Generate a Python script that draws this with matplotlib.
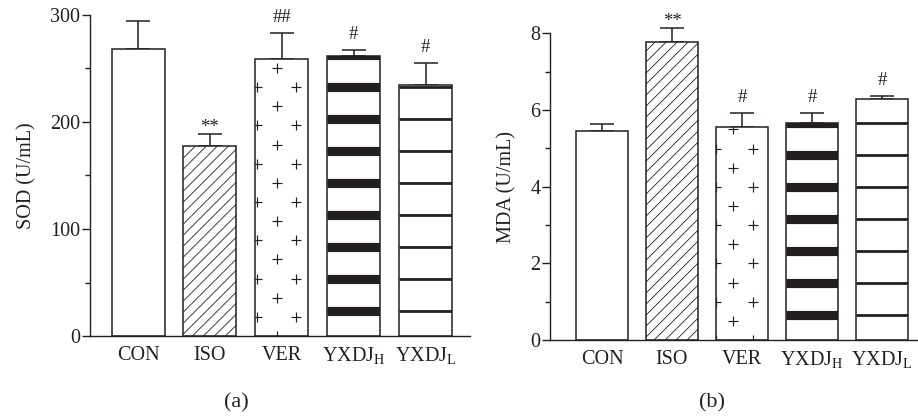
# SOD / MDA bar panels with publication-style fill patterns.

import numpy as np
import matplotlib.pyplot as plt

plt.rcParams['font.family'] = ['Liberation Serif', 'DejaVu Serif']
plt.rcParams['mathtext.fontset'] = 'custom'
plt.rcParams['mathtext.rm'] = 'Liberation Serif'

GROUPS = ["CON", "ISO", "VER", r"YXDJ$_\mathregular{H}$", r"YXDJ$_\mathregular{L}$"]
FILLS = ["plain", "hatch", "plus", "thick", "thin"]

SOD_MEAN = [268, 178, 259, 262, 234.5]
SOD_ERR = [26, 11, 24, 5, 20.5]
SOD_MARK = ["", "**", "##", "#", "#"]

MDA_MEAN = [5.46, 7.78, 5.56, 5.67, 6.28]
MDA_ERR = [0.17, 0.37, 0.36, 0.25, 0.09]
MDA_MARK = ["", "**", "#", "#", "#"]

INK = "#231f20"
FS = 14.5


def px_scale(ax):
    t = ax.transData
    o = t.transform((0, 0))
    return t.transform((1, 0))[0] - o[0], t.transform((0, 1))[1] - o[1]


def fill_bar(ax, bar, kind, plus_cols, even_mid):
    x0, w, h = bar.get_x(), bar.get_width(), bar.get_height()
    sx, sy = px_scale(ax)
    wpx, hpx = w * sx, h * sy
    arts = []
    if kind == "hatch":
        for c in np.arange(-wpx, hpx + 11, 11):
            ln, = ax.plot([x0, x0 + w], [c / sy, (c + wpx) / sy],
                          color=INK, lw=0.6, zorder=2.5)
            arts.append(ln)
    elif kind == "plus":
        mid, outer = plus_cols[1], [plus_cols[0], plus_cols[2]]
        for j in range(int(hpx / 19.15) + 1):
            cols = [mid] if (j % 2 == 0) == even_mid else outer
            for c in cols:
                ln, = ax.plot([x0 + c / sx], [j * 19.15 / sy], ls="none", marker="+",
                              ms=7, mew=0.85, color=INK, zorder=2.5)
                arts.append(ln)
    elif kind in ("thick", "thin"):
        lw = 6.6 if kind == "thick" else 2.0
        ys = np.arange(25.3, hpx + 10, 32) / sy
        arts.append(ax.hlines(ys, x0, x0 + w, colors=INK, lw=lw, zorder=2.5))
    for a in arts:
        a.set_clip_path(bar)


def panel(ax, means, errs, marks, ylim, major, minor, ylabel, xlim, width,
          plus_cols, even_mid):
    x = np.arange(len(GROUPS))
    ax.set_xlim(*xlim)
    ax.set_ylim(*ylim)
    ax.set_autoscale_on(False)
    bars = ax.bar(x, means, width, color="white", edgecolor="none", zorder=2)
    for bar, kind in zip(bars, FILLS):
        fill_bar(ax, bar, kind, plus_cols, even_mid)
    ax.bar(x, means, width, fill=False, edgecolor=INK, lw=1.1, zorder=3)
    eb = ax.errorbar(x, means, yerr=[np.zeros(len(x)), errs], fmt="none", ecolor=INK,
                     elinewidth=1.1, capsize=8.6, capthick=1.1, zorder=1)
    for part in eb.lines[1] + eb.lines[2]:
        part.set_clip_on(False)
    for xi, m, e, mk in zip(x, means, errs, marks):
        if mk:
            off = 1.0 if "*" in mk else 7.9
            ax.annotate(mk, (xi, m + e), xytext=(0, off), textcoords="offset points",
                        ha="center", va="baseline", fontsize=FS - 1, color=INK,
                        annotation_clip=False)
    ax.spines[["top", "right"]].set_visible(False)
    for s in ("left", "bottom"):
        ax.spines[s].set_linewidth(1.0)
        ax.spines[s].set_color(INK)
    ax.set_yticks(major)
    ax.set_yticks(minor, minor=True)
    ax.set_xticks(x)
    ax.set_xticklabels(GROUPS)
    ax.tick_params(axis="y", which="major", length=5.5, width=1, pad=1.5,
                   labelsize=FS, color=INK, labelcolor=INK)
    ax.tick_params(axis="y", which="minor", length=3.6, width=1, color=INK)
    ax.tick_params(axis="x", length=0, pad=7, labelsize=FS, labelcolor=INK)
    ax.set_ylabel(ylabel, fontsize=FS, color=INK, labelpad=10)


fig = plt.figure(figsize=(9.18, 4.19), dpi=100)

ax1 = fig.add_axes([90 / 918, 83 / 419, 380 / 918, 321 / 419])
panel(ax1, SOD_MEAN, SOD_ERR, SOD_MARK, (0, 300), [0, 100, 200, 300], [50, 150, 250],
      "SOD (U/mL)", (-0.668, 4.617), 0.737, [1.7, 21.7, 41], True)

ax2 = fig.add_axes([550 / 918, 79 / 419, 367 / 918, 306.7 / 419])
panel(ax2, MDA_MEAN, MDA_ERR, MDA_MARK, (0, 8), [0, 2, 4, 6, 8], [1, 3, 5, 7],
      "MDA (U/mL)", (-0.743, 4.5), 0.747, [0, 17.3, 37.3], False)

fig.text(236 / 918, 1 - 403 / 419, "(a)", ha="center", va="center", fontsize=16, color=INK)
fig.text(712 / 918, 1 - 403 / 419, "(b)", ha="center", va="center", fontsize=16, color=INK)

plt.savefig("out.png", dpi=100)
